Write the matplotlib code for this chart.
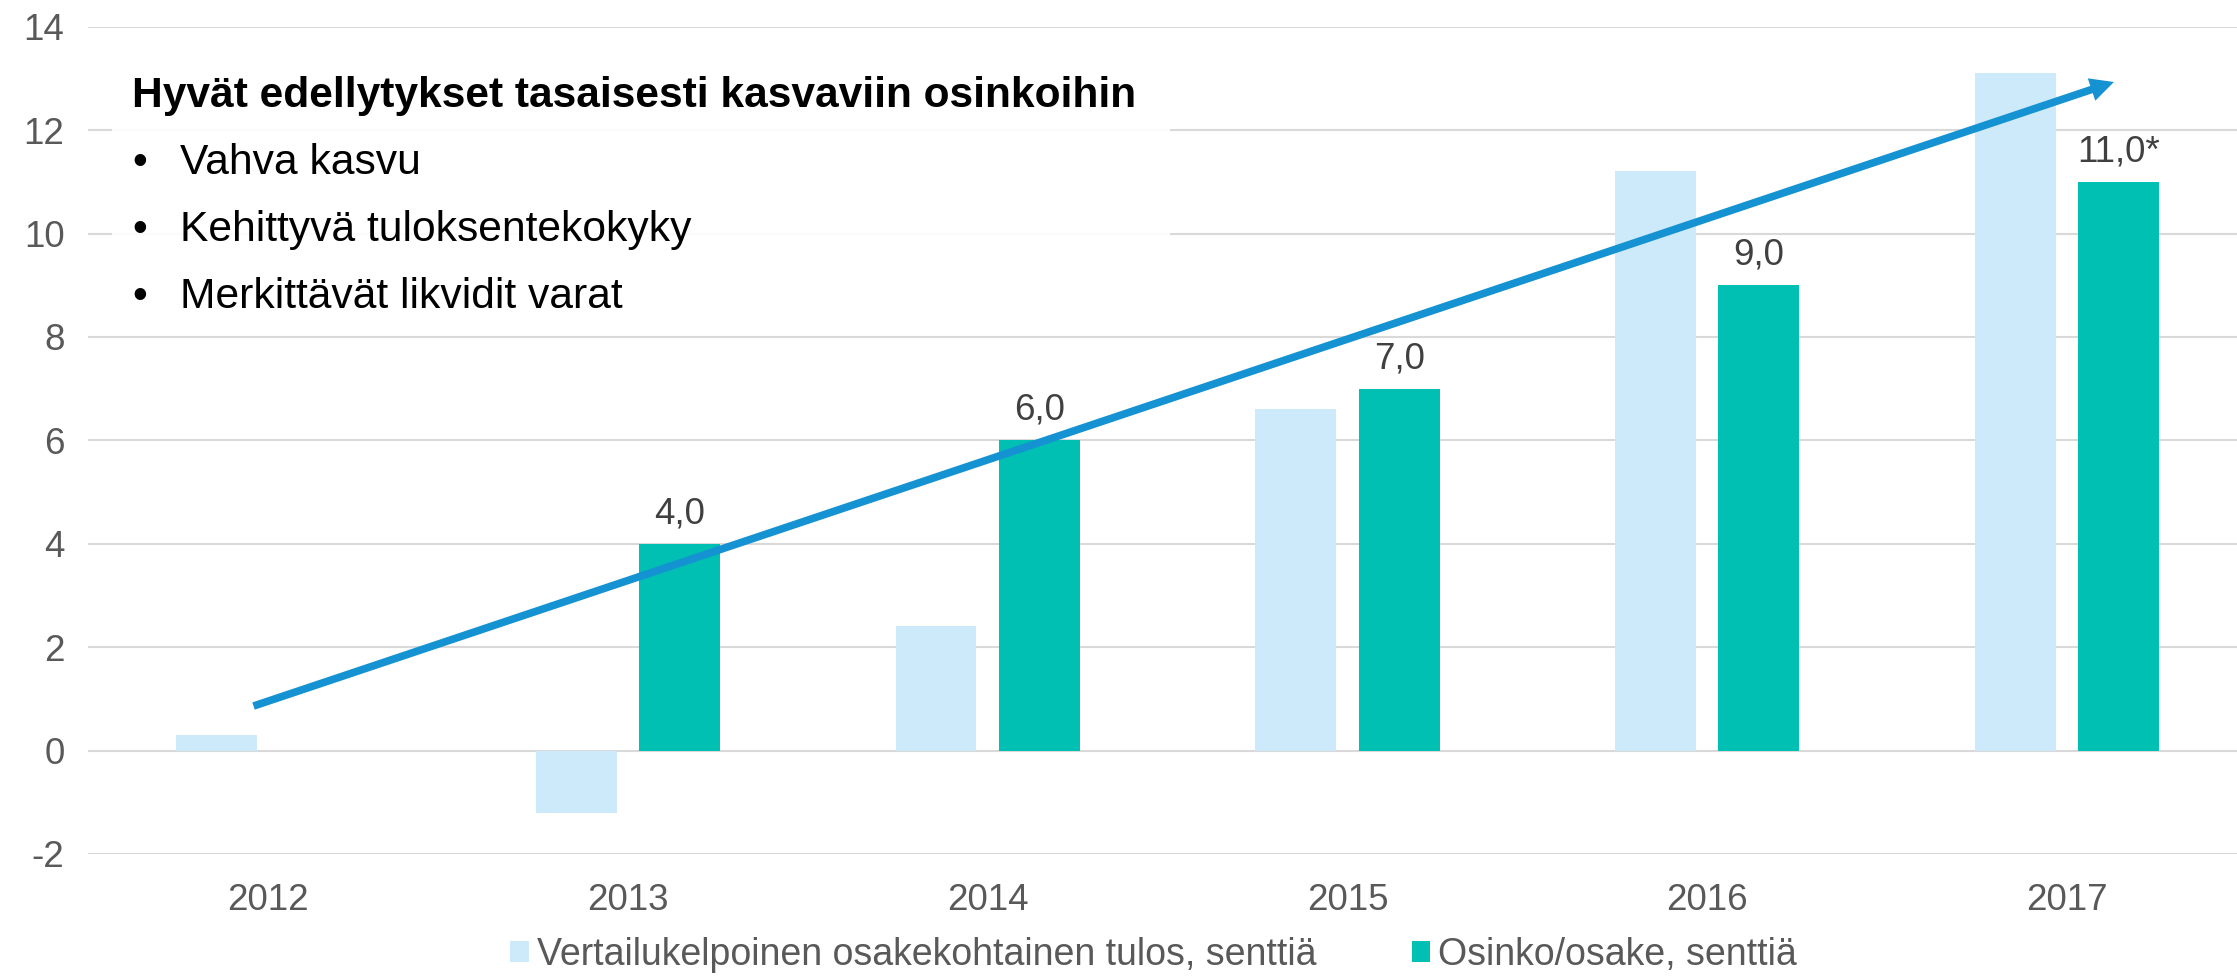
import matplotlib
matplotlib.use('Agg')
import matplotlib.pyplot as plt
from matplotlib.patches import Rectangle
import numpy as np

# data
years = ['2012', '2013', '2014', '2015', '2016', '2017']
eps = [0.3, -1.2, 2.4, 6.6, 11.2, 13.1]            # vertailukelpoinen EPS, senttiä
dividend = [np.nan, 4.0, 6.0, 7.0, 9.0, 11.0]       # osinko/osake, senttiä
dividend_suffix = ['', '', '', '', '', '*']
yticks = [-2, 0, 2, 4, 6, 8, 10, 12, 14]

eps_label = 'Vertailukelpoinen osakekohtainen tulos, senttiä'
div_label = 'Osinko/osake, senttiä'
box_title = 'Hyvät edellytykset tasaisesti kasvaviin osinkoihin'
bullets = ['Vahva kasvu', 'Kehittyvä tuloksentekokyky', 'Merkittävät likvidit varat']

# trend arrow (data coords)
arrow_start = (-0.04, 0.86)
arrow_end = (5.13, 12.93)

LIGHT = '#CCEAFA'
TEAL = '#00BFB3'
ARROW = '#1592D2'
GRID = '#D9D9D9'
TICK = '#595959'

plt.rcParams['font.family'] = ['Liberation Sans', 'DejaVu Sans']

W, H = 2237, 977
fig = plt.figure(figsize=(W / 100, H / 100), dpi=100)
fig.patch.set_facecolor('white')

# axes box in pixels: left 88, top 26.7, bottom 853.9, runs off the right edge
ax = fig.add_axes((88 / W, 1 - 853.9 / H, (W - 88) / W, (853.9 - 26.7) / H))
ax.set_xlim(-0.5, 5.472)
ax.set_ylim(-2, 14)

x = np.arange(len(years))
bw = 0.225
off = 0.1434
ax.bar(x - off, eps, bw, color=LIGHT, label=eps_label, zorder=2)
ax.bar(x + off, dividend, bw, color=TEAL, label=div_label, zorder=2)

for xi, v, s in zip(x, dividend, dividend_suffix):
    if np.isnan(v):
        continue
    ax.annotate(f'{v:.1f}'.replace('.', ',') + s, (xi + off, v), xytext=(0, 9),
                textcoords='offset points', ha='center', va='bottom',
                fontsize=26.5, color='#404040', zorder=5)

ax.set_axisbelow(True)
ax.set_yticks(yticks)
ax.set_yticklabels([str(t) for t in yticks])
ax.set_xticks(x)
ax.set_xticklabels(years)
ax.grid(axis='y', color=GRID, lw=1.5)
ax.tick_params(axis='both', length=0, labelsize=26.5, labelcolor=TICK)
ax.tick_params(axis='y', pad=17)
ax.tick_params(axis='x', pad=21)
for sp in ax.spines.values():
    sp.set_visible(False)

# arrow
ax.annotate('', xy=arrow_end, xytext=arrow_start,
            arrowprops=dict(arrowstyle='simple,head_length=1.7,head_width=1.7,tail_width=0.55',
                            mutation_scale=10, color=ARROW, lw=0,
                            shrinkA=0, shrinkB=0), zorder=6)

# text box (semi-transparent white over gridlines)
ax.add_patch(Rectangle((112 / W, 1 - 320 / H), (1170 - 112) / W, (320 - 60) / H,
                       transform=fig.transFigure, facecolor='white', alpha=0.9,
                       edgecolor='none', zorder=3))
fig.text(132 / W, 1 - 107 / H, box_title, fontsize=30.6, fontweight='bold',
         color='black', va='baseline', ha='left')
for i, b in enumerate(bullets):
    yb = 1 - (174 + i * 67) / H
    fig.text(132 / W, yb, '\u2022', fontsize=30.7, color='black', va='baseline')
    fig.text(180 / W, yb, b, fontsize=30.7, color='black', va='baseline')

# legend
fig.legend(loc='center', bbox_to_anchor=(1153.5 / W, 1 - 955 / H), ncol=2,
           frameon=False, fontsize=27, labelcolor=TICK,
           handlelength=0.5, handleheight=0.47, handletextpad=0.2,
           columnspacing=2.55, borderpad=0)

fig.savefig('out.png', dpi=100)
